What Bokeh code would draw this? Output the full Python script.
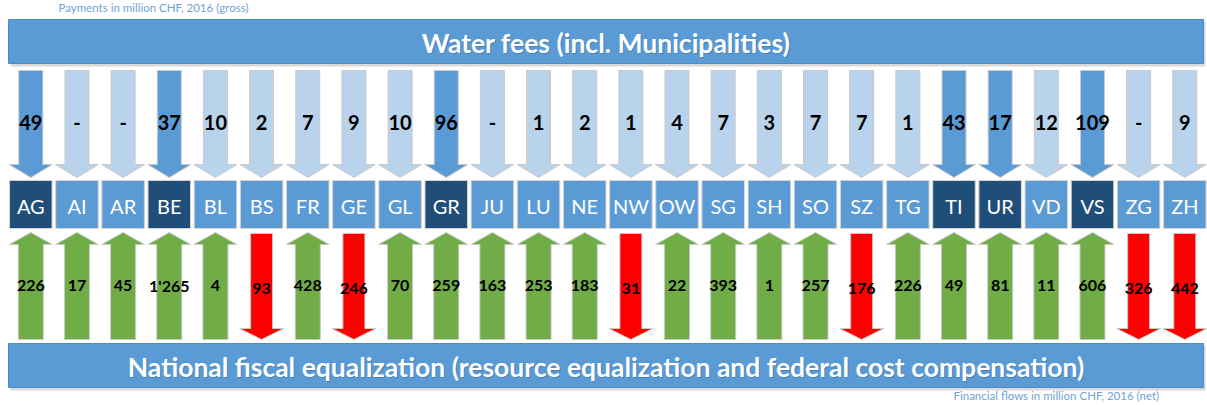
from bokeh.plotting import figure
from bokeh.models import Range1d, ColumnDataSource
from bokeh.core.properties import value
from bokeh.embed import file_html
from bokeh.resources import INLINE

# ---------------- data ----------------
cantons = ["AG", "AI", "AR", "BE", "BL", "BS", "FR", "GE", "GL", "GR", "JU", "LU", "NE",
           "NW", "OW", "SG", "SH", "SO", "SZ", "TG", "TI", "UR", "VD", "VS", "ZG", "ZH"]
# water fees, million CHF 2016 (gross); None = "-"
water_fees = [49, None, None, 37, 10, 2, 7, 9, 10, 96, None, 1, 2,
              1, 4, 7, 3, 7, 7, 1, 43, 17, 12, 109, None, 9]
# national fiscal equalization, million CHF 2016 (net); >0 receives, <0 pays
fiscal_net = [226, 17, 45, 1265, 4, -93, 428, -246, 70, 259, 163, 253, 183,
              -31, 22, 393, 1, 257, -176, 226, 49, 81, 11, 606, -326, -442]
major_producers = ["AG", "BE", "GR", "TI", "UR", "VS"]

title_top = "Water fees (incl. Municipalities)"
title_bottom = "National fiscal equalization (resource equalization and federal cost compensation)"
note_top = "Payments in million CHF,  2016 (gross)"
note_bottom = "Financial flows in million CHF, 2016 (net)"

# ---------------- styles / layout ----------------
FONT = "Lato"
BLUE = "#5b9bd5"
LIGHT = "#b9d3ec"
DARK = "#1f4e79"
GREEN = "#70ad47"
RED = "#ff0000"
EDGE = "#c9c9c9"

X0, PITCH, BOX_W = 30.3, 46.16, 42.5
LEFT, RIGHT = 8, 1203

def fmt(v):
    return "-" if v is None else f"{abs(v):,}".replace(",", "'")

p = figure(width=1207, height=405, output_backend="svg", toolbar_location=None,
           x_range=Range1d(0, 1207), y_range=Range1d(405, 0),
           min_border=0, outline_line_color=None, background_fill_color="white")
p.axis.visible = False
p.grid.visible = False

cx = [X0 + i * PITCH for i in range(len(cantons))]

# banners with shadow
for (t, b) in [(19, 63), (343, 387)]:
    p.quad(left=[LEFT + 2], right=[RIGHT + 2], top=[t + 2], bottom=[b + 3],
           fill_color="#bfbfbf", fill_alpha=0.6, line_color=None)
    p.quad(left=[LEFT], right=[RIGHT], top=[t], bottom=[b],
           fill_color=BLUE, line_color="#4a8ac8", line_width=1)

# top arrows (water fees, downwards)
ya, yb, yc, sw, hw = 70, 164, 177, 12, 21.5
xs, ys, cols = [], [], []
for i, c in enumerate(cantons):
    x = cx[i]
    xs.append([x - sw, x + sw, x + sw, x + hw, x, x - hw, x - sw])
    ys.append([ya, ya, yb, yb, yc, yb, yb])
    cols.append(BLUE if c in major_producers else LIGHT)
p.patches(xs="xs", ys="ys", fill_color="col", line_color=EDGE, line_width=1,
          source=ColumnDataSource(dict(xs=xs, ys=ys, col=cols)))

p.text(x=cx, y=[122] * len(cx), text=[fmt(v) for v in water_fees],
       text_font=value(FONT), text_font_style="bold", text_font_size="20px",
       text_color="black", text_align="center", text_baseline="middle")

# canton boxes
box_cols = [DARK if c in major_producers else BLUE for c in cantons]
p.quad(left=[x - BOX_W / 2 for x in cx], right=[x + BOX_W / 2 for x in cx],
       top=[180] * len(cx), bottom=[228] * len(cx),
       fill_color=box_cols, line_color="#d4d4d4", line_width=1)
p.text(x=cx, y=[205] * len(cx), text=cantons, text_font=value(FONT),
       text_font_size="20px", text_color="white", text_align="center",
       text_baseline="middle")

# bottom arrows (fiscal equalization)
xs, ys, cols = [], [], []
for i, v in enumerate(fiscal_net):
    x = cx[i]
    if v >= 0:
        s, h = 12.5, 21.5
        xs.append([x, x + h, x + s, x + s, x - s, x - s, x - h])
        ys.append([232, 244, 244, 339, 339, 244, 244])
        cols.append(GREEN)
    else:
        s, h = 11, 22
        xs.append([x - s, x + s, x + s, x + h, x, x - h, x - s])
        ys.append([233, 233, 328, 328, 339, 328, 328])
        cols.append(RED)
p.patches(xs="xs", ys="ys", fill_color="col", line_color=EDGE, line_width=1,
          source=ColumnDataSource(dict(xs=xs, ys=ys, col=cols)))

p.text(x=cx, y=[285 if v >= 0 else 288 for v in fiscal_net],
       text=[fmt(v) for v in fiscal_net],
       text_font=value(FONT), text_font_style="bold", text_font_size="16px",
       text_color="black", text_align="center", text_baseline="middle")

# banner titles
for (yt, t) in [(42, title_top), (366, title_bottom)]:
    p.text(x=[606.5], y=[yt + 1], text=[t], text_font=value(FONT),
           text_font_style="bold", text_font_size="26.5px", text_color="#3a6f9f",
           text_alpha=0.6, text_align="center", text_baseline="middle")
    p.text(x=[605.5], y=[yt], text=[t], text_font=value(FONT),
           text_font_style="bold", text_font_size="26.5px", text_color="white",
           text_align="center", text_baseline="middle")

# notes
p.text(x=[58], y=[7], text=[note_top], text_font=value(FONT), text_font_size="11.5px",
       text_color="#6fa3d6", text_align="left", text_baseline="middle")
p.text(x=[953], y=[395], text=[note_bottom], text_font=value(FONT), text_font_size="11.5px",
       text_color="#6fa3d6", text_align="left", text_baseline="middle")

open("out.html", "w").write(file_html(p, INLINE))
